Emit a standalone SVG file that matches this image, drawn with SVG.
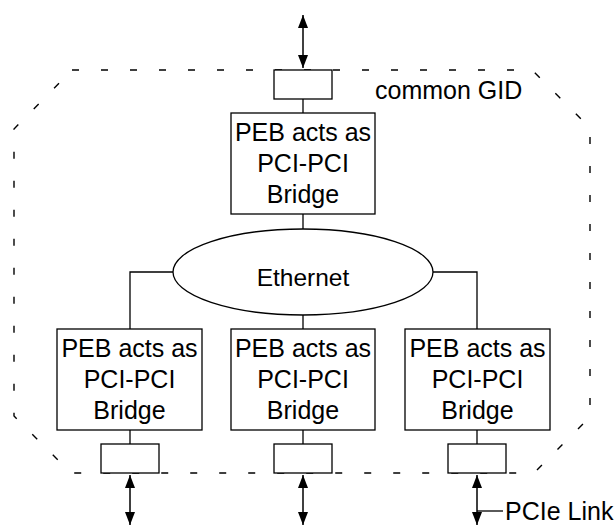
<svg xmlns="http://www.w3.org/2000/svg" width="614" height="527" viewBox="0 0 614 527">
<style>
.box{fill:#fff;stroke:#000;stroke-width:1.3}
.ln{fill:none;stroke:#000;stroke-width:1.3}
.arr{fill:none;stroke:#000;stroke-width:1.5;marker-start:url(#ah);marker-end:url(#ah)}
.bound{fill:none;stroke:#000;stroke-width:1.4;stroke-dasharray:7 22}
text{font-family:"Liberation Sans",Arial,sans-serif;font-size:25px;fill:#000}
.c{text-anchor:middle}
</style>
<defs>
<marker id="ah" markerUnits="userSpaceOnUse" markerWidth="14" markerHeight="12" viewBox="0 0 14 12" refX="13" refY="6" orient="auto-start-reverse">
<path d="M0,1 L13,6 L0,11 Z" fill="#000"/>
</marker>
</defs>
<g id="boundary">
<path class="bound" d="M72,70 L532,70 L590,128 L590,417 L534,473 L71,473 L14,416 L14,129 Z"/>
<text x="375" y="99">common GID</text>
</g>
<g id="connectors">
<line class="arr" x1="303" y1="15" x2="303" y2="68"/>
<line class="ln" x1="303" y1="99" x2="303" y2="113"/>
<line class="ln" x1="303" y1="214" x2="303" y2="229"/>
<polyline class="ln" points="173,272 130,272 130,329"/>
<polyline class="ln" points="433,272 477,272 477,329"/>
<line class="ln" x1="303" y1="315" x2="303" y2="329"/>
<line class="ln" x1="130" y1="430" x2="130" y2="444"/>
<line class="ln" x1="303" y1="430" x2="303" y2="444"/>
<line class="ln" x1="477" y1="430" x2="477" y2="444"/>
<line class="arr" x1="130" y1="475" x2="130" y2="525"/>
<line class="arr" x1="303" y1="475" x2="303" y2="525"/>
<line class="arr" x1="477" y1="475" x2="477" y2="525"/>
<line class="ln" x1="477" y1="511" x2="503" y2="511"/>
<text x="505" y="520">PCIe Link</text>
</g>
<g id="port-top"><rect class="box" x="274" y="70" width="58" height="29"/></g>
<g id="peb-top">
<rect class="box" x="231" y="113" width="144" height="101"/>
<text class="c" x="303" y="141">PEB acts as</text>
<text class="c" x="303" y="172">PCI-PCI</text>
<text class="c" x="303" y="203">Bridge</text>
</g>
<g id="ethernet">
<ellipse class="box" cx="303" cy="272" rx="130" ry="43"/>
<text class="c" x="303" y="286" style="font-size:24.5px">Ethernet</text>
</g>
<g id="peb-left">
<rect class="box" x="57" y="329" width="145" height="101"/>
<text class="c" x="129.5" y="357">PEB acts as</text>
<text class="c" x="129.5" y="388">PCI-PCI</text>
<text class="c" x="129.5" y="419">Bridge</text>
</g>
<g id="peb-middle">
<rect class="box" x="231" y="329" width="144" height="101"/>
<text class="c" x="303" y="357">PEB acts as</text>
<text class="c" x="303" y="388">PCI-PCI</text>
<text class="c" x="303" y="419">Bridge</text>
</g>
<g id="peb-right">
<rect class="box" x="405" y="329" width="145" height="101"/>
<text class="c" x="477.5" y="357">PEB acts as</text>
<text class="c" x="477.5" y="388">PCI-PCI</text>
<text class="c" x="477.5" y="419">Bridge</text>
</g>
<g id="port-left"><rect class="box" x="101" y="444" width="58" height="29"/></g>
<g id="port-middle"><rect class="box" x="274" y="444" width="58" height="29"/></g>
<g id="port-right"><rect class="box" x="448" y="444" width="58" height="29"/></g>
</svg>
